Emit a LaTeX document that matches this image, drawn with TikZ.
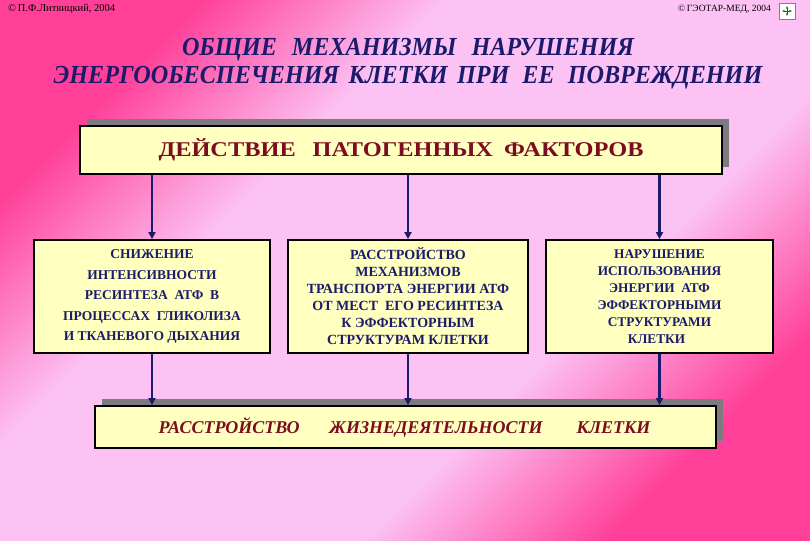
\documentclass[tikz,border=0pt]{standalone}
\usepackage{fontspec}
\setmainfont{Liberation Serif}
\usepackage{graphicx}
\usetikzlibrary{arrows.meta,shadows}
\definecolor{HotPink}{HTML}{FF3F98}
\definecolor{SoftPink}{HTML}{FCC2F4}
\definecolor{BoxYellow}{HTML}{FFFFC0}
\definecolor{InkNavy}{HTML}{1B1A6B}
\definecolor{InkMaroon}{HTML}{7C0C22}
\definecolor{ShadowGray}{HTML}{7E7A80}
\pgfdeclarehorizontalshading{pinkbg}{100bp}{color(0bp)=(HotPink); color(25bp)=(HotPink);
  color(38bp)=(SoftPink); color(62bp)=(SoftPink); color(75bp)=(HotPink); color(100bp)=(HotPink)}

\begin{document}
\begin{tikzpicture}[
    x=1pt, y=-1pt,
    >={Triangle[length=7pt,width=7pt]},
    box/.style={draw=black,line width=1.8pt,fill=BoxYellow,inner sep=0pt,align=center},
    shbox/.style={box,drop shadow={shadow xshift=7pt,shadow yshift=7pt,fill=ShadowGray,opacity=1}},
    mech/.style={box,minimum height=113pt,text=InkNavy,font=\bfseries\fontsize{14}{17}\selectfont},
    link/.style={draw=InkNavy,line width=2.8pt,->},
    small/.style={font=\fontsize{10.5}{11}\selectfont,text=black,inner sep=0pt}
  ]
  % background
  \shade[shading=pinkbg,shading angle=135] (0,0) rectangle (810,540);
  \useasboundingbox (0,0) rectangle (810,540);

  % corner notes
  \node[small,anchor=west] (auth) at (8,9) {\textcopyright\,П.Ф.Литвицкий, 2004};
  \node[draw=gray,fill=white,minimum size=16pt,inner sep=0pt] (logo) at (787,11) {};
  \node[small,anchor=east,font=\fontsize{9.5}{11}\selectfont] (pub) at (771,9) {\textcopyright\,ГЭОТАР-МЕД, 2004};
  \draw[green!45!black,line width=0.8pt,<->,>={Stealth[length=3pt]}] ([xshift=-5pt]logo.center) -- ([xshift=5pt]logo.center);
  \draw[green!45!black,line width=0.8pt,<->,>={Stealth[length=3pt]}] ([yshift=-5pt]logo.center) -- ([yshift=5pt]logo.center);

  % title
  \node[text=InkNavy,font=\bfseries\itshape\fontsize{26}{28}\selectfont] (title1) at (408,50)
    {\scalebox{0.93}[1]{ОБЩИЕ\hspace{16pt}МЕХАНИЗМЫ\hspace{16pt}НАРУШЕНИЯ}};
  \node[text=InkNavy,font=\bfseries\itshape\fontsize{26}{28}\selectfont] (title2) at (408,78)
    {\scalebox{0.93}[1]{ЭНЕРГООБЕСПЕЧЕНИЯ\hspace{10pt}КЛЕТКИ\hspace{10pt}ПРИ\hspace{14pt}ЕЕ\hspace{14pt}ПОВРЕЖДЕНИИ}};

  % boxes
  \node[shbox,minimum width=642pt,minimum height=48pt,text=InkMaroon,
    font=\bfseries\fontsize{21}{22}\selectfont] (act) at (401,150)
    {\scalebox{1.16}[1]{ДЕЙСТВИЕ\hspace{14.5pt}ПАТОГЕННЫХ\hspace{9.5pt}ФАКТОРОВ}};
  \node[mech,minimum width=236pt,font=\bfseries\fontsize{13.5}{20.5}\selectfont] (synth) at (152,296.5)
    {СНИЖЕНИЕ\\ИНТЕНСИВНОСТИ\\РЕСИНТЕЗА \ АТФ \ В\\ПРОЦЕССАХ \ ГЛИКОЛИЗА\\И ТКАНЕВОГО ДЫХАНИЯ};
  \node[mech,minimum width=240pt] (transp) at (408,296.5)
    {РАССТРОЙСТВО\\МЕХАНИЗМОВ\\ТРАНСПОРТА ЭНЕРГИИ АТФ\\ОТ МЕСТ \ ЕГО РЕСИНТЕЗА\\К ЭФФЕКТОРНЫМ\\СТРУКТУРАМ КЛЕТКИ};
  \node[mech,minimum width=227pt,font=\bfseries\fontsize{13.3}{17}\selectfont] (usage) at (659.5,296.5)
    {НАРУШЕНИЕ\\ИСПОЛЬЗОВАНИЯ\\ЭНЕРГИИ \ АТФ\\ЭФФЕКТОРНЫМИ\\СТРУКТУРАМИ\\\hspace*{-6pt}КЛЕТКИ};
  \node[shbox,minimum width=621pt,minimum height=42pt,text=InkMaroon,
    font=\bfseries\itshape\fontsize{18}{19}\selectfont] (result) at (405.5,427)
    {\hspace*{-2pt}РАССТРОЙСТВО\hspace{30pt}ЖИЗНЕДЕЯТЕЛЬНОСТИ\hspace{34pt}КЛЕТКИ};

  % arrows
  \foreach \m in {synth,transp,usage}{
    \draw[link] (\m.north |- act.south) -- (\m.north);
    \draw[link] (\m.south) -- (\m.south |- result.north);
  }
\end{tikzpicture}
\end{document}
